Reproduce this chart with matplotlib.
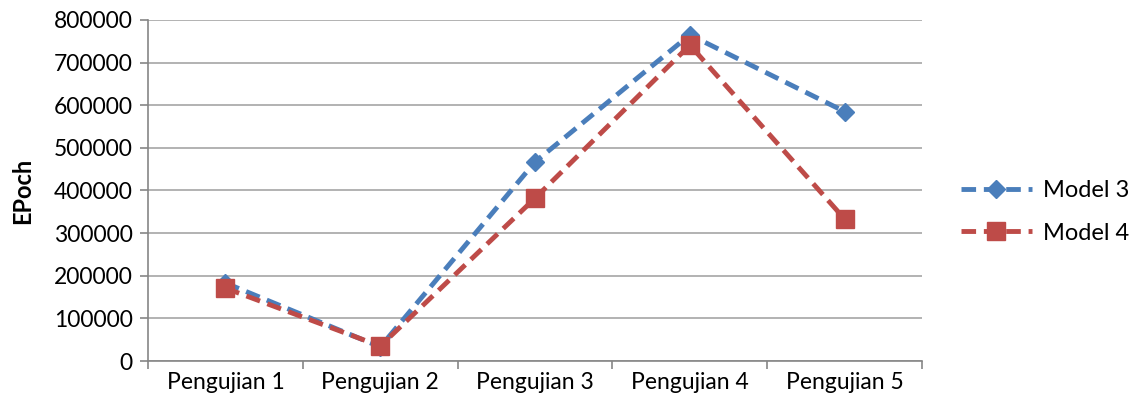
import matplotlib
matplotlib.use("Agg")
import matplotlib.pyplot as plt
import numpy as np

categories = ["Pengujian 1", "Pengujian 2", "Pengujian 3", "Pengujian 4", "Pengujian 5"]
model3 = [183000, 33000, 467000, 765000, 585000]
model4 = [171000, 35000, 382000, 741000, 333000]
yticks = [0, 100000, 200000, 300000, 400000, 500000, 600000, 700000, 800000]

plt.rcParams['font.family'] = ['Lato', 'DejaVu Sans']

fig = plt.figure(figsize=(11.3, 4.07), dpi=100)
ax = fig.add_axes([0.131, 0.113, 0.685, 0.838])

x = np.arange(len(categories))
ax.plot(x, model3, color="#4a7ebb", lw=3.5, ls=(0, (3, 1.6)), marker="D",
        markersize=9, markeredgecolor="#4a7ebb", label="Model 3", zorder=3)
ax.plot(x, model4, color="#be4b48", lw=3.5, ls=(0, (3, 1.6)), marker="s",
        markersize=13, markeredgecolor="#be4b48", label="Model 4", zorder=4)

ax.set_xlim(-0.5, 4.5)
ax.set_ylim(0, 800000)
ax.set_yticks(yticks)
ax.set_yticklabels([str(v) for v in yticks], fontsize=16.5)
ax.set_xticks(x)
ax.set_xticklabels(categories, fontsize=16.5)
ax.set_xticks(np.arange(-0.5, 5.0, 1.0), minor=True)
ax.tick_params(axis='x', which='major', length=0, pad=8)
ax.tick_params(axis='x', which='minor', length=6, color="#868686", width=1.2)
ax.tick_params(axis='y', length=6, color="#868686", width=1.2, pad=5)

ax.grid(axis='y', color="#a6a6a6", lw=1.2)
ax.set_axisbelow(True)
for s in ["top", "right"]:
    ax.spines[s].set_visible(False)
for s in ["left", "bottom"]:
    ax.spines[s].set_color("#868686")
    ax.spines[s].set_linewidth(1.2)

ax.set_ylabel("EPoch", fontsize=17, fontweight="bold", labelpad=14)

ax.legend(loc="center left", bbox_to_anchor=(1.05, 0.437), frameon=False,
          borderaxespad=0, borderpad=0,
          fontsize=17, handlelength=3.0, labelspacing=0.9, handletextpad=0.5)

fig.savefig("out.png", dpi=100)
